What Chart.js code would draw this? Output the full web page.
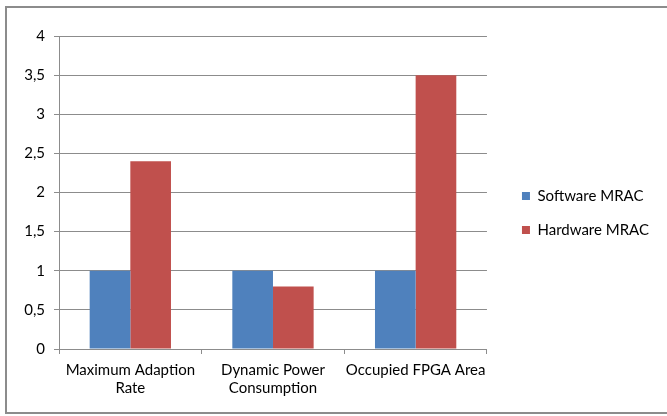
<!DOCTYPE html>
<html>
<head>
<meta charset="utf-8">
<script src="https://cdn.jsdelivr.net/npm/chart.js@4/dist/chart.umd.min.js"></script>
<style>
  html, body { margin: 0; padding: 0; background: #fff; }
  #wrap { position: relative; width: 667px; height: 416px; overflow: hidden; }
  #frame {
    position: absolute; left: 5px; top: 6px; width: 700px; height: 408px;
    border: 2px solid #8c8c8c; box-sizing: border-box;
  }
  #chart { position: absolute; left: 0; top: 0; }
</style>
</head>
<body>
<div id="wrap">
  <div id="frame"></div>
  <canvas id="chart" width="667" height="416"></canvas>
</div>
<script>
const categories = [
  ["Maximum Adaption", "Rate"],
  ["Dynamic Power", "Consumption"],
  "Occupied FPGA Area"
];
const softwareValues = [1, 1, 1];
const hardwareValues = [2.4, 0.8, 3.5];
const seriesNames = ["Software MRAC", "Hardware MRAC"];
const yMin = 0;
const yMax = 4;
const yStep = 0.5;

const FONT = "Lato, 'Liberation Sans', sans-serif";
const GRID = "#8c8c8c";
const TEXT = "#000";

// widen the legend box so there is room between the plot and the legend items,
// then slide the items back to the right and nudge them up a little
const LEGEND_GAP = 16;
const LEGEND_LIFT = 4;
const legendGap = {
  id: "legendGap",
  beforeLayout(chart) {
    const legend = chart.legend;
    if (!legend || legend._gapWrapped) return;
    const fit = legend.fit;
    legend.fit = function () {
      fit.call(this);
      this.width += LEGEND_GAP;
    };
    legend._gapWrapped = true;
  },
  afterLayout(chart) {
    const legend = chart.legend;
    if (!legend) return;
    legend.left += LEGEND_GAP;
    legend.right += LEGEND_GAP;
    legend.top -= LEGEND_LIFT;
    legend.bottom -= LEGEND_LIFT;
  }
};

new Chart(document.getElementById("chart"), {
  type: "bar",
  data: {
    labels: categories,
    datasets: [
      { label: seriesNames[0], data: softwareValues, backgroundColor: "#4f81bd" },
      { label: seriesNames[1], data: hardwareValues, backgroundColor: "#c0504d" }
    ]
  },
  options: {
    responsive: false,
    animation: false,
    layout: { padding: { left: 14, top: 36, right: 8, bottom: 18 } },
    datasets: {
      bar: { barPercentage: 1, categoryPercentage: 0.57 }
    },
    scales: {
      x: {
        grid: { drawOnChartArea: false, drawTicks: true, tickLength: 5, color: GRID, lineWidth: 1 },
        border: { display: true, color: GRID, width: 1 },
        ticks: {
          color: TEXT,
          font: { family: FONT, size: 15, lineHeight: 1.2 },
          padding: 7,
          maxRotation: 0,
          autoSkip: false
        },
        afterFit(scale) { scale.height = 49; }
      },
      y: {
        min: yMin,
        max: yMax,
        grid: { color: GRID, lineWidth: 1, tickLength: 5 },
        border: { display: true, color: GRID, width: 1 },
        ticks: {
          stepSize: yStep,
          color: TEXT,
          font: { family: FONT, size: 15 },
          padding: 9,
          callback: v => String(v).replace(".", ",")
        },
        afterFit(scale) { scale.width = 45; }
      }
    },
    plugins: {
      legend: {
        position: "right",
        labels: {
          boxWidth: 8,
          boxHeight: 8,
          padding: 19,
          color: TEXT,
          font: { family: FONT, size: 15 }
        }
      },
      tooltip: { enabled: false }
    }
  },
  plugins: [legendGap]
});
</script>
</body>
</html>
